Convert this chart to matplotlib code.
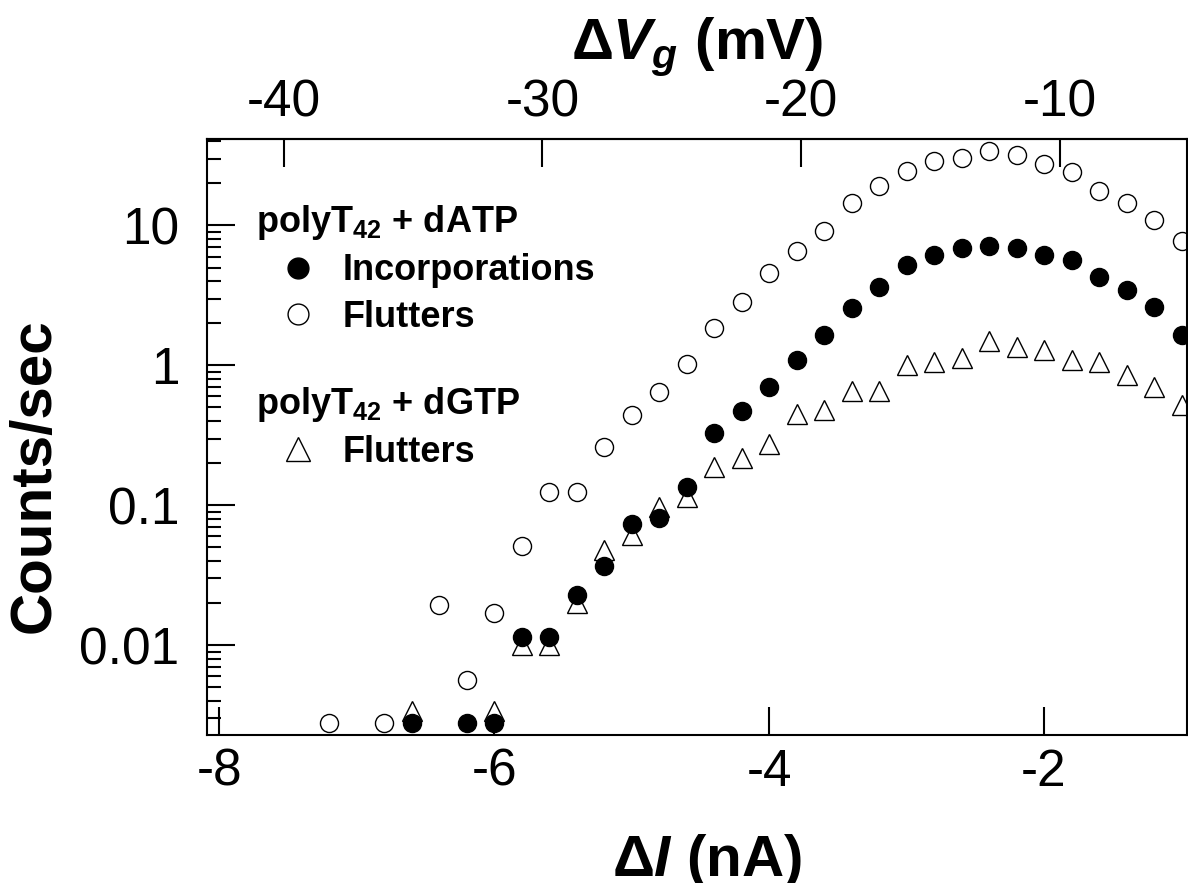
import matplotlib
matplotlib.use('Agg')
import matplotlib.pyplot as plt
from matplotlib.lines import Line2D
from matplotlib.ticker import FixedLocator, FuncFormatter, LogLocator, NullFormatter, NullLocator

plt.rcParams['font.family'] = ['Liberation Sans', 'DejaVu Sans']
plt.rcParams['axes.unicode_minus'] = False
plt.rcParams['mathtext.fontset'] = 'custom'
plt.rcParams['mathtext.rm'] = 'Liberation Sans:bold'
plt.rcParams['mathtext.it'] = 'Liberation Sans:italic:bold'
plt.rcParams['mathtext.bf'] = 'Liberation Sans:bold'

# polyT42 + dATP, flutters (open circles)
di_atp_flut = [-7.2, -6.8, -6.4, -6.2, -6.0, -5.8, -5.6, -5.4, -5.2,
               -5.0, -4.8, -4.6, -4.4, -4.2, -4.0, -3.8, -3.6, -3.4, -3.2, -3.0,
               -2.8, -2.6, -2.4, -2.2, -2.0, -1.8, -1.6, -1.4, -1.2, -1.0]
atp_flut = [0.0028, 0.0028, 0.0193, 0.0056, 0.0169, 0.051, 0.124, 0.124, 0.26,
            0.44, 0.65, 1.03, 1.84, 2.82, 4.54, 6.6, 9.06, 14.4, 19.0, 24.7,
            29.1, 30.6, 33.8, 32.1, 27.7, 24.3, 17.5, 14.4, 11.0, 7.8]

# polyT42 + dATP, incorporations (filled circles)
di_atp_inc = [-6.6, -6.2, -6.0, -5.8, -5.6, -5.4, -5.2,
              -5.0, -4.8, -4.6, -4.4, -4.2, -4.0, -3.8, -3.6, -3.4, -3.2, -3.0,
              -2.8, -2.6, -2.4, -2.2, -2.0, -1.8, -1.6, -1.4, -1.2, -1.0]
atp_inc = [0.0028, 0.0028, 0.0028, 0.0114, 0.0114, 0.0228, 0.0366,
           0.073, 0.081, 0.135, 0.33, 0.472, 0.70, 1.10, 1.64, 2.55, 3.62, 5.18,
           6.2, 6.85, 7.08, 6.85, 6.2, 5.7, 4.25, 3.43, 2.6, 1.64]

# polyT42 + dGTP, flutters (open triangles)
di_gtp_flut = [-6.6, -6.0, -5.8, -5.6, -5.4, -5.2,
               -5.0, -4.8, -4.6, -4.4, -4.2, -4.0, -3.8, -3.6, -3.4, -3.2, -3.0,
               -2.8, -2.6, -2.4, -2.2, -2.0, -1.8, -1.6, -1.4, -1.2, -1.0]
gtp_flut = [0.0034, 0.0034, 0.0100, 0.0100, 0.020, 0.048,
            0.061, 0.097, 0.114, 0.188, 0.216, 0.273, 0.447, 0.48, 0.66, 0.66, 1.0,
            1.05, 1.12, 1.49, 1.35, 1.28, 1.10, 1.05, 0.85, 0.70, 0.52]

# gate voltage per nA of current change
mv_per_na = 5.31

fig = plt.figure(figsize=(11.88, 8.83), dpi=100)
ax = fig.add_axes([207 / 1188, 1 - 735 / 883, 980 / 1188, 596 / 883])

ax.plot(di_gtp_flut, gtp_flut, '^', ms=15, mfc='white', mec='black', mew=1.0)
ax.plot(di_atp_flut, atp_flut, 'o', ms=13, mfc='white', mec='black', mew=1.0)
ax.plot(di_atp_inc, atp_inc, 'o', ms=13, mfc='black', mec='black')

ax.set_yscale('log')
ax.set_xlim(-8.09, -0.96)
ax.set_ylim(0.00228, 41.5)

ax.xaxis.set_major_locator(FixedLocator([-8, -6, -4, -2]))
ax.xaxis.set_minor_locator(NullLocator())
ax.yaxis.set_major_locator(LogLocator(base=10, numticks=10))
ax.yaxis.set_minor_locator(LogLocator(base=10, subs=range(2, 10), numticks=20))
ax.yaxis.set_major_formatter(FuncFormatter(lambda v, p: '%g' % v))
ax.yaxis.set_minor_formatter(NullFormatter())

ax.tick_params(which='both', direction='in', top=False, right=False, width=1.5)
ax.tick_params(which='major', length=20, labelsize=37)
ax.tick_params(axis='x', pad=9)
ax.tick_params(axis='y', pad=20)
ax.tick_params(which='minor', length=10)
for s in ax.spines.values():
    s.set_linewidth(1.5)

ax.set_xlabel('Δ$I$ (nA)', fontsize=42, fontweight='bold')
ax.xaxis.set_label_coords(0.51, -0.162)
ax.set_ylabel('Counts/sec', fontsize=42, fontweight='bold')
ax.yaxis.set_label_coords(-0.148, 0.435)

top = ax.secondary_xaxis('top', functions=(lambda i: i * mv_per_na, lambda v: v / mv_per_na))
top.xaxis.set_major_locator(FixedLocator([-40, -30, -20, -10]))
top.tick_params(direction='in', length=20, width=1.5, labelsize=37, pad=8)
top.spines['top'].set_linewidth(1.5)
top.set_xlabel('Δ$V_g$ (mV)', fontsize=42, fontweight='bold', labelpad=14)

# legend
h_inc = Line2D([], [], ls='none', marker='o', ms=15, mfc='black', mec='black')
h_flu = Line2D([], [], ls='none', marker='o', ms=15, mfc='white', mec='black', mew=1.0)
h_tri = Line2D([], [], ls='none', marker='^', ms=17, mfc='white', mec='black', mew=1.0)
leg_kw = dict(loc='upper left', frameon=False, borderpad=0, borderaxespad=0,
              handlelength=2.3, handletextpad=0.1, labelspacing=0.32,
              alignment='left', prop={'weight': 'bold', 'size': 26},
              title_fontproperties={'weight': 'bold', 'size': 26})
leg1 = ax.legend([h_inc, h_flu], ['Incorporations', 'Flutters'],
                 title='polyT$_{\\mathbf{42}}$ + dATP',
                 bbox_to_anchor=(0.05, 0.893), **leg_kw)
ax.add_artist(leg1)
ax.legend([h_tri], ['Flutters'], title='polyT$_{\\mathbf{42}}$ + dGTP',
          bbox_to_anchor=(0.05, 0.588), **leg_kw)

fig.savefig('out.png', dpi=100)
